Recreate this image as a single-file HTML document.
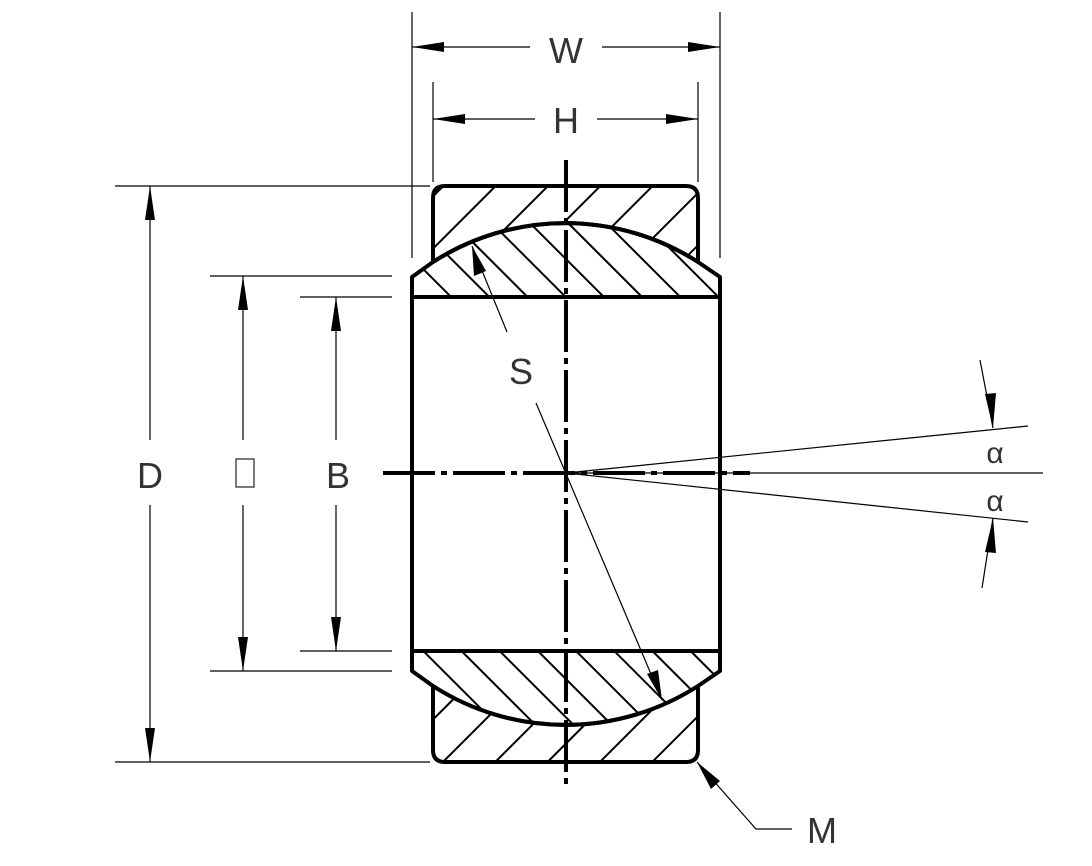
<!DOCTYPE html>
<html><head><meta charset="utf-8"><style>
html,body{margin:0;padding:0;background:#fff;}
svg{display:block;}
text{font-family:"Liberation Sans",sans-serif;font-size:36px;fill:#333;}
</style></head><body>
<svg width="1092" height="866" viewBox="0 0 1092 866" xmlns="http://www.w3.org/2000/svg">
<defs>
<pattern id="h1" width="37" height="37" patternUnits="userSpaceOnUse" patternTransform="rotate(45)">
<line x1="0" y1="0" x2="0" y2="37" stroke="#000" stroke-width="4"/>
</pattern>
<pattern id="h2" width="27" height="27" patternUnits="userSpaceOnUse" patternTransform="rotate(-45)">
<line x1="0" y1="0" x2="0" y2="27" stroke="#000" stroke-width="4"/>
</pattern>
</defs>
<g stroke="#000" stroke-width="4" stroke-linejoin="round">
<!-- outer ring top -->
<path d="M433,262 L433,198 Q433,186 445,186 L686,186 Q698,186 698,198 L698,262 A245 245 0 0 0 433,262 Z" fill="url(#h1)"/>
<!-- outer ring bottom -->
<path d="M433,686 L433,750 Q433,762 445,762 L686,762 Q698,762 698,750 L698,686 A245 245 0 0 1 433,686 Z" fill="url(#h1)"/>
<!-- ball top -->
<path d="M412,297 L412,277 L433,262 A245 245 0 0 1 698,262 L720,277 L720,297 Z" fill="url(#h2)"/>
<!-- ball bottom -->
<path d="M412,651 L412,671 L433,686 A245 245 0 0 0 698,686 L720,671 L720,651 Z" fill="url(#h2)"/>
<line x1="412" y1="297" x2="412" y2="651"/>
<line x1="720" y1="297" x2="720" y2="651"/>
</g>
<!-- centerlines -->
<line x1="566" y1="160" x2="566" y2="790" stroke="#000" stroke-width="4" stroke-dasharray="52 6 6 6"/>
<line x1="383" y1="473" x2="750" y2="473" stroke="#000" stroke-width="4" stroke-dasharray="52 6 6 6"/>
<g stroke="#000" stroke-width="1.2" fill="none">
<line x1="566" y1="473" x2="1043" y2="473"/>
<line x1="566" y1="473" x2="1028" y2="426"/>
<line x1="566" y1="473" x2="1028" y2="522"/>
<!-- W / H -->
<line x1="412" y1="12" x2="412" y2="258"/>
<line x1="720" y1="12" x2="720" y2="258"/>
<line x1="412" y1="47" x2="530" y2="47"/><line x1="602" y1="47" x2="720" y2="47"/>
<line x1="433" y1="82" x2="433" y2="182"/>
<line x1="698" y1="82" x2="698" y2="182"/>
<line x1="433" y1="119" x2="535" y2="119"/><line x1="597" y1="119" x2="698" y2="119"/>
<!-- D d B -->
<line x1="115" y1="186" x2="430" y2="186"/>
<line x1="115" y1="762" x2="430" y2="762"/>
<line x1="150" y1="186" x2="150" y2="440"/><line x1="150" y1="505" x2="150" y2="762"/>
<line x1="210" y1="276" x2="392" y2="276"/>
<line x1="210" y1="671" x2="392" y2="671"/>
<line x1="243" y1="276" x2="243" y2="440"/><line x1="243" y1="505" x2="243" y2="671"/>
<line x1="300" y1="297" x2="392" y2="297"/>
<line x1="300" y1="651" x2="392" y2="651"/>
<line x1="336" y1="297" x2="336" y2="440"/><line x1="336" y1="505" x2="336" y2="651"/>
<!-- S leaders -->
<line x1="472" y1="246" x2="507" y2="332"/>
<line x1="536" y1="403" x2="662" y2="700"/>
<!-- M leader -->
<polyline points="697,762 756,829 792,829"/>
<!-- alpha arrows -->
<line x1="980" y1="360" x2="993" y2="428"/>
<line x1="982" y1="588" x2="993" y2="518"/>
</g>
<g fill="#000">
<!-- W arrows -->
<polygon points="412,47 444,42 444,52"/><polygon points="720,47 688,42 688,52"/>
<polygon points="433,119 465,114 465,124"/><polygon points="698,119 666,114 666,124"/>
<polygon points="150,186 145,220 155,220"/><polygon points="150,762 145,728 155,728"/>
<polygon points="243,276 238,310 248,310"/><polygon points="243,671 238,637 248,637"/>
<polygon points="336,297 331,331 341,331"/><polygon points="336,651 331,617 341,617"/>
<!-- S arrow -->
<polygon points="472,246 474,276 486,271"/>
<polygon points="662,700 647,674 658,670"/>
<!-- M arrow -->
<polygon points="697,762 711,789 720,781"/>
<!-- alpha arrows -->
<polygon points="993,428 985,394 996,393"/>
<polygon points="993,518 985,552 996,553"/>
</g>
<text x="566" y="63" text-anchor="middle">W</text>
<text x="566" y="133" text-anchor="middle">H</text>
<text x="150" y="488" text-anchor="middle">D</text>
<rect x="236" y="459" width="18" height="28" fill="none" stroke="#333" stroke-width="1.3"/>
<text x="338" y="488" text-anchor="middle">B</text>
<text x="521" y="384" text-anchor="middle">S</text>
<text x="822" y="843" text-anchor="middle">M</text>
<text x="995" y="463" text-anchor="middle" style="font-size:30px">α</text>
<text x="995" y="511" text-anchor="middle" style="font-size:30px">α</text>
</svg>
</body></html>
